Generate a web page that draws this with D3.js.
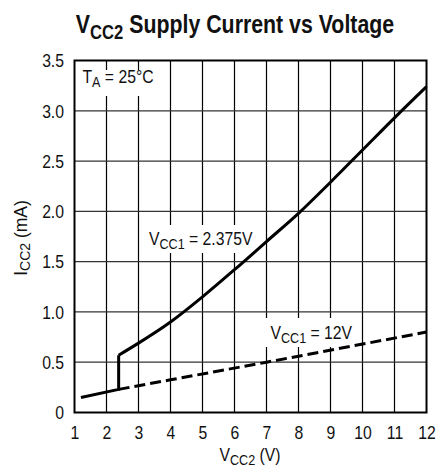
<!DOCTYPE html>
<html>
<head>
<meta charset="utf-8">
<script src="https://cdn.jsdelivr.net/npm/d3@7"></script>
<style>
  html, body { margin: 0; padding: 0; background: #fff; }
  svg { display: block; }
  text { font-family: "Liberation Sans", Arial, Helvetica, sans-serif; fill: #111; }
</style>
</head>
<body>
<script>
// ---------------- data ----------------
const xTicks = [1, 2, 3, 4, 5, 6, 7, 8, 9, 10, 11, 12];
const yTicks = [0, 0.5, 1.0, 1.5, 2.0, 2.5, 3.0, 3.5];
const yTickLabels = ["0", "0.5", "1.0", "1.5", "2.0", "2.5", "3.0", "3.5"];

// shared low segment (before the supply switches on)
const lowVcc2 = [1.2, 2.38];
const lowIcc2 = [0.15, 0.23];

// VCC1 = 2.375V (solid) after the step
const solidVcc2 = [2.38, 3, 4, 5, 6, 7, 8, 9, 10, 11, 12];
const solidIcc2 = [0.57, 0.69, 0.9, 1.15, 1.42, 1.7, 1.98, 2.29, 2.61, 2.93, 3.24];

// VCC1 = 12V (dashed)
const dashVcc2 = [2.38, 4, 7, 12];
const dashIcc2 = [0.23, 0.325, 0.5, 0.8];

// ---------------- layout ----------------
const W = 438, H = 467;
const svg = d3.select("body").append("svg").attr("width", W).attr("height", H);

const x = d3.scaleLinear().domain([1, 12]).range([74.5, 426.5]);
const y = d3.scaleLinear().domain([0, 3.5]).range([412.5, 60.5]);

const NARROW = 0.9;

// helper: text with tspans (subscripts), horizontally condensed
function richText(g, parts, px, py, opts) {
  const size = opts.size, anchor = opts.anchor || "start", scale = opts.scale || NARROW;
  const grp = g.append("g").attr("transform",
    `translate(${px},${py})` + (opts.rotate ? ` rotate(${opts.rotate})` : "") + ` scale(${scale},1)`);
  const t = grp.append("text").attr("x", 0).attr("y", 0)
    .attr("text-anchor", anchor).attr("font-size", size)
    .attr("font-weight", opts.bold ? "bold" : "normal");
  let shifted = 0;
  parts.forEach(p => {
    const ts = t.append("tspan").text(p.t);
    if (p.sub) {
      const d = size * 0.22;
      ts.attr("font-size", size * (opts.subScale || 0.8)).attr("dy", d - shifted);
      shifted = d;
    } else {
      if (shifted) ts.attr("dy", -shifted);
      shifted = 0;
    }
  });
  return grp;
}

// ---------------- grid ----------------
const grid = svg.append("g");
grid.selectAll("line.v").data(xTicks.slice(1, -1)).enter().append("line")
  .attr("x1", d => x(d)).attr("x2", d => x(d))
  .attr("y1", y(3.5)).attr("y2", y(0))
  .attr("stroke", "#000").attr("stroke-width", 1.2);
grid.selectAll("line.h").data(yTicks.slice(1, -1)).enter().append("line")
  .attr("x1", x(1)).attr("x2", x(12))
  .attr("y1", d => y(d)).attr("y2", d => y(d))
  .attr("stroke", "#333").attr("stroke-width", 1.2);

// white boxes behind in-plot labels
const boxes = svg.append("g");
boxes.append("rect").attr("x", x(1) + 1).attr("y", 70).attr("width", 85).attr("height", 26).attr("fill", "#fff");
boxes.append("rect").attr("x", 141).attr("y", 225).attr("width", 121).attr("height", 28).attr("fill", "#fff");
boxes.append("rect").attr("x", 265).attr("y", 318).attr("width", 92).attr("height", 29).attr("fill", "#fff");

// ---------------- curves ----------------
const lineLin = d3.line().x(d => x(d[0])).y(d => y(d[1]));
const lineSmooth = d3.line().x(d => x(d[0])).y(d => y(d[1])).curve(d3.curveMonotoneX);

const lowPts = lowVcc2.map((v, i) => [v, lowIcc2[i]]);
const stepPts = lowPts.concat([[solidVcc2[0], solidIcc2[0]]]);
const solidPts = solidVcc2.map((v, i) => [v, solidIcc2[i]]);
const dashPts = dashVcc2.map((v, i) => [v, dashIcc2[i]]);

svg.append("path").attr("d", lineLin(dashPts)).attr("fill", "none")
  .attr("stroke", "#000").attr("stroke-width", 3).attr("stroke-dasharray", "11,5");
svg.append("path").attr("d", lineLin(stepPts)).attr("fill", "none")
  .attr("stroke", "#000").attr("stroke-width", 3).attr("stroke-linejoin", "miter");
svg.append("path").attr("d", lineSmooth(solidPts)).attr("fill", "none")
  .attr("stroke", "#000").attr("stroke-width", 3);

// ---------------- frame ----------------
svg.append("rect").attr("x", x(1)).attr("y", y(3.5))
  .attr("width", x(12) - x(1)).attr("height", y(0) - y(3.5))
  .attr("fill", "none").attr("stroke", "#000").attr("stroke-width", 2);

// ---------------- axes labels ----------------
const xAxis = d3.axisBottom(x).tickValues(xTicks).tickSize(0).tickFormat(d3.format("d"));
const gx = svg.append("g").attr("transform", `translate(0,${y(0)})`).call(xAxis);
gx.select(".domain").remove();
gx.selectAll("text").attr("font-size", 17.5).attr("fill", "#111")
  .attr("font-family", '"Liberation Sans", Arial, sans-serif')
  .attr("dy", 0).attr("y", 26.5)
  .attr("transform", `scale(${NARROW},1)`);

const yAxis = d3.axisLeft(y).tickValues(yTicks).tickSize(0)
  .tickFormat((d, i) => yTickLabels[i]);
const gy = svg.append("g").attr("transform", `translate(${x(1)},0)`).call(yAxis);
gy.select(".domain").remove();
gy.selectAll("text").attr("font-size", 17.5).attr("fill", "#111")
  .attr("font-family", '"Liberation Sans", Arial, sans-serif')
  .attr("x", -10.5 / NARROW).attr("dy", "0.36em")
  .attr("transform", `scale(${NARROW},1)`);

// ---------------- titles & annotations ----------------
richText(svg, [{ t: "V" }, { t: "CC2", sub: true }, { t: " Supply Current vs Voltage" }],
  235, 33, { size: 26, bold: true, anchor: "middle", scale: 0.82, subScale: 0.78 });

richText(svg, [{ t: "V" }, { t: "CC2", sub: true }, { t: " (V)" }],
  250, 461, { size: 17.5, anchor: "middle" });

richText(svg, [{ t: "I" }, { t: "CC2", sub: true }, { t: " (mA)" }],
  26.5, 238, { size: 17.5, anchor: "middle", rotate: -90, scale: 1 });

richText(svg, [{ t: "T" }, { t: "A", sub: true }, { t: " = 25°C" }],
  82.5, 83, { size: 17.5 });

richText(svg, [{ t: "V" }, { t: "CC1", sub: true }, { t: " = 2.375V" }],
  149, 245, { size: 17.5 });

richText(svg, [{ t: "V" }, { t: "CC1", sub: true }, { t: " = 12V" }],
  270.5, 339, { size: 17.5 });
</script>
</body>
</html>
